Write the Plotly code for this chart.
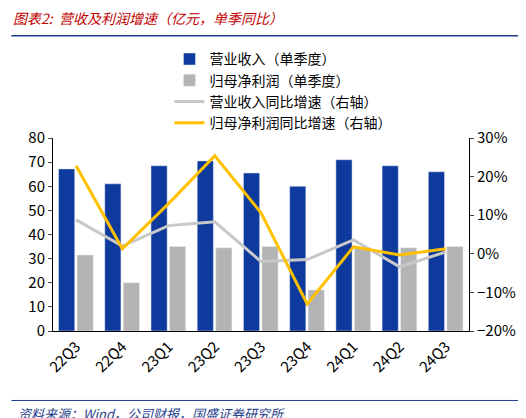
import plotly.graph_objects as go

quarters = ["22Q3", "22Q4", "23Q1", "23Q2", "23Q3", "23Q4", "24Q1", "24Q2", "24Q3"]
revenue = [67.2, 61.0, 68.5, 70.5, 65.5, 60.0, 71.0, 68.5, 66.0]
profit = [31.5, 20.0, 35.0, 34.5, 35.0, 17.0, 34.5, 34.5, 35.0]
rev_yoy = [8.8, 2.0, 7.3, 8.3, -2.0, -1.5, 3.6, -3.4, 0.5]
profit_yoy = [22.8, 1.3, 13.0, 25.4, 10.6, -13.0, 1.8, -0.3, 1.3]

font = "Noto Sans CJK SC"
fig = go.Figure()
fig.add_bar(x=quarters, y=revenue, name="营业收入（单季度）", marker_color="#0D3A9C", width=0.35, offset=-0.38)
fig.add_bar(x=quarters, y=profit, name="归母净利润（单季度）", marker_color="#B4B4B4", width=0.35, offset=0.02)
fig.add_scatter(x=quarters, y=rev_yoy, name="营业收入同比增速（右轴）", yaxis="y2",
                mode="lines", line=dict(color="#C8C8C8", width=3))
fig.add_scatter(x=quarters, y=profit_yoy, name="归母净利润同比增速（右轴）", yaxis="y2",
                mode="lines", line=dict(color="#FFC000", width=3))

fig.update_layout(
    width=526, height=418, plot_bgcolor="white", paper_bgcolor="white",
    font=dict(family=font, size=15, color="black"),
    margin=dict(l=45, r=65, t=130, b=95),
    showlegend=True,
    legend=dict(x=0.28, y=1.49, xanchor="left", yanchor="top", bgcolor="rgba(0,0,0,0)",
                font=dict(size=14), tracegroupgap=0),
    xaxis=dict(tickangle=-45, showline=True, linecolor="black", ticks="",
               tickfont=dict(size=15)),
    yaxis=dict(range=[0, 80], dtick=10, showgrid=False, showline=True, linecolor="black",
               ticks="outside", ticklen=4),
    yaxis2=dict(range=[-20, 30], dtick=10, overlaying="y", side="right", showgrid=False,
                ticksuffix="%", showline=True, linecolor="black", ticks="outside", ticklen=4,
                zeroline=False),
    annotations=[
        dict(text="<i>图表2:  营收及利润增速（亿元，单季同比）</i>", x=-0.1, y=1.62, xref="paper", yref="paper",
             xanchor="left", yanchor="middle", showarrow=False,
             font=dict(size=14, color="#C00000", family=font)),
        dict(text="<i>资料来源：Wind，公司财报，国盛证券研究所</i>", x=-0.09, y=-0.43, xref="paper", yref="paper",
             xanchor="left", yanchor="middle", showarrow=False,
             font=dict(size=13, color="#1F3E8C", family=font)),
    ],
    shapes=[
        dict(type="line", xref="paper", yref="paper", x0=-0.1, x1=1.15, y0=1.53, y1=1.53,
             line=dict(color="#1F3E8C", width=1.5)),
        dict(type="line", xref="paper", yref="paper", x0=-0.1, x1=1.15, y0=-0.36, y1=-0.36,
             line=dict(color="#1F3E8C", width=1)),
    ],
)
fig.write_html("out.html")
